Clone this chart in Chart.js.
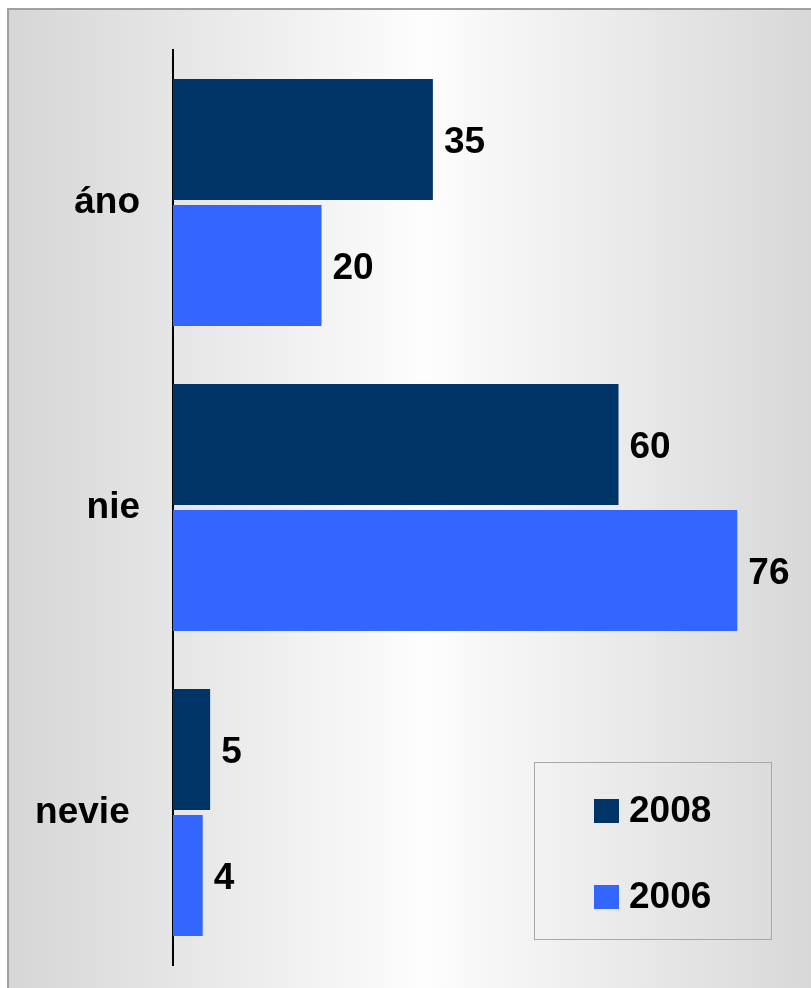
<!DOCTYPE html>
<html>
<head>
<meta charset="utf-8">
<script src="https://cdn.jsdelivr.net/npm/chart.js@4"></script>
<style>
  html, body { margin: 0; padding: 0; background: #fff; }
  #wrap { width: 811px; height: 988px; }
</style>
</head>
<body>
<div id="wrap"><canvas id="bars" width="811" height="988"></canvas></div>
<script>
const categories = ['áno', 'nie', 'nevie '];
const series2008 = [35, 60, 5];
const series2006 = [20, 76, 4];
const seriesNames = ['2008', '2006'];
const seriesColors = ['#003366', '#3366FF'];
const xMax = 80;

const FONT = '"Liberation Sans", Arial, sans-serif';

// background frame with horizontal gradient
const backdrop = {
  id: 'backdrop',
  beforeDraw(chart) {
    const ctx = chart.ctx;
    ctx.save();
    ctx.fillStyle = '#ffffff';
    ctx.fillRect(0, 0, chart.width, chart.height);
    const g = ctx.createLinearGradient(8, 0, chart.width, 0);
    g.addColorStop(0, '#d6d6d6');
    g.addColorStop(0.52, '#fdfdfd');
    g.addColorStop(1, '#d8d8d8');
    ctx.fillStyle = g;
    ctx.fillRect(8, 9, chart.width - 8, chart.height - 9);
    ctx.strokeStyle = '#a0a0a0';
    ctx.lineWidth = 2;
    ctx.beginPath();
    ctx.moveTo(8, chart.height);
    ctx.lineTo(8, 9);
    ctx.lineTo(chart.width, 9);
    ctx.stroke();
    ctx.restore();
  }
};

// value labels at bar ends
const valueLabels = {
  id: 'valueLabels',
  afterDatasetsDraw(chart) {
    const ctx = chart.ctx;
    ctx.save();
    ctx.font = 'bold 37px ' + FONT;
    ctx.fillStyle = '#000';
    ctx.textAlign = 'left';
    ctx.textBaseline = 'middle';
    chart.data.datasets.forEach((ds, i) => {
      chart.getDatasetMeta(i).data.forEach((bar, j) => {
        ctx.fillText(String(ds.data[j]), bar.x + 11, bar.y + 3);
      });
    });
    ctx.restore();
  }
};

// boxed legend in the lower right
const boxLegend = {
  id: 'boxLegend',
  afterDraw(chart) {
    const ctx = chart.ctx;
    ctx.save();
    ctx.strokeStyle = '#a8a8a8';
    ctx.lineWidth = 1;
    ctx.strokeRect(534.5, 762.5, 237, 177);
    ctx.font = 'bold 37px ' + FONT;
    ctx.textAlign = 'left';
    ctx.textBaseline = 'middle';
    chart.data.datasets.forEach((ds, i) => {
      const cy = 811 + i * 86;
      ctx.fillStyle = ds.backgroundColor;
      ctx.fillRect(594, cy - 12, 25, 24);
      ctx.fillStyle = '#000';
      ctx.fillText(ds.label, 629, cy + 1);
    });
    ctx.restore();
  }
};

new Chart(document.getElementById('bars').getContext('2d'), {
  type: 'bar',
  data: {
    labels: categories,
    datasets: [
      { label: seriesNames[0], data: series2008, backgroundColor: seriesColors[0] },
      { label: seriesNames[1], data: series2006, backgroundColor: seriesColors[1] }
    ]
  },
  options: {
    indexAxis: 'y',
    responsive: false,
    animation: false,
    devicePixelRatio: 1,
    categoryPercentage: 0.826,
    barPercentage: 0.96,
    layout: { padding: { left: 0, top: 50, right: 44, bottom: 23 } },
    plugins: {
      legend: { display: false },
      tooltip: { enabled: false }
    },
    scales: {
      x: {
        display: false,
        min: 0,
        max: xMax
      },
      y: {
        afterFit(scale) {
          scale.width = 173;
          scale.paddingTop = 0;
          scale.paddingBottom = 0;
        },
        grid: { display: false },
        border: { display: true, color: '#000', width: 2 },
        ticks: {
          color: '#000',
          padding: 25,
          font: { family: FONT, size: 37, weight: 'bold' }
        }
      }
    }
  },
  plugins: [backdrop, valueLabels, boxLegend]
});
</script>
</body>
</html>
